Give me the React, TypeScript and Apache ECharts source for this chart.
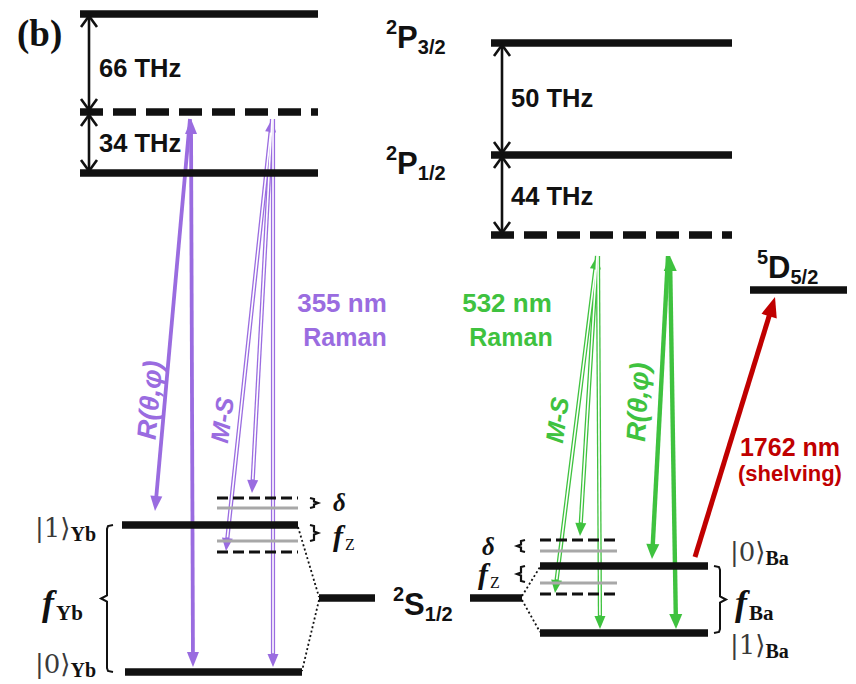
import React, { useEffect, useRef } from "react";
import * as echarts from "echarts";

// ---------------- data (diagram coordinates, y grows downward) ----------------
// energy levels: [xStart, xEnd, y]
const ybLevels = [[80, 318, 14], [80, 318, 173], [122, 298, 525], [125, 302, 672], [319, 375, 598]];
const ybVirtual = [[80, 318, 112]];
const ybSideDashed = [[217, 298, 498], [217, 298, 552]];
const ybSideGray = [[217, 298, 508], [217, 298, 541]];
const baLevels = [[491, 732, 43], [491, 732, 155], [540, 708, 566], [540, 708, 633], [470, 522, 598], [750, 847, 290]];
const baVirtual = [[491, 732, 235]];
const baSideDashed = [[540, 617, 540], [540, 617, 594]];
const baSideGray = [[540, 617, 551], [540, 617, 583]];
// splitting arrows: [x, yTop, yBottom]
const gapArrows = [[89, 16, 110], [89, 115, 171], [502, 45, 153], [502, 157, 233]];
// dotted Zeeman links: [x1, y1, x2, y2]
const dottedLinks = [[298, 527, 319, 597], [319, 600, 302, 671], [522, 596, 540, 567], [522, 600, 540, 632]];
// beams: [x1, y1, x2, y2, headAtStart, headAtEnd]
const yb355Beams = [[190, 119, 155, 511, 0, 1], [191, 119, 193, 667, 1, 1]];
const yb355MS = [[272, 119, 226, 551, 1, 1], [272, 119, 252, 493, 0, 1], [273, 119, 273, 667, 0, 1]];
const ba532Beams = [[668, 256, 652, 559, 0, 1], [670, 256, 676, 629, 1, 1]];
const ba532MS = [[597, 256, 555, 593, 1, 1], [597, 256, 580, 536, 0, 1], [598, 256, 600, 629, 0, 1]];
const shelvingBeam = [[695, 557, 775, 297, 0, 1]];
// braces: [xSpine, yTop, yBottom, tickDirection]
const bigBraces = [[107, 525, 672, -1], [720, 566, 633, 1]];
const smallBraces = [[310, 498, 508, 1], [310, 525, 541, 1], [525, 540, 552, -1], [525, 566, 582, -1]];
// text
const splitLabels = ["66 THz", "34 THz", "50 THz", "44 THz"];
const laserLabels = ["355 nm", "Raman", "532 nm", "Raman", "1762 nm", "(shelving)"];

// ---------------- styles ----------------
const PURPLE = "#9a6ce0";
const GREEN = "#3fc23f";
const RED = "#c00000";
const INK = "#111111";
const GRAY = "#a8a8a8";
const SANS = '"Liberation Sans", Arial, sans-serif';
const SERIF = '"Liberation Serif", "DejaVu Serif", serif';
const KETF = '"DejaVu Serif", "Liberation Serif", serif';

type V = number[];
function unit(a: V, b: V) {
  const dx = b[0] - a[0], dy = b[1] - a[1];
  const l = Math.hypot(dx, dy) || 1;
  return [dx / l, dy / l];
}
function filledHead(tip: V, u: V, L: number, w: number, color: string) {
  const n = [-u[1], u[0]];
  const bx = tip[0] - u[0] * L, by = tip[1] - u[1] * L;
  return {
    type: "polygon",
    shape: { points: [[tip[0], tip[1]], [bx + n[0] * w / 2, by + n[1] * w / 2], [bx - n[0] * w / 2, by - n[1] * w / 2]] },
    style: { fill: color },
  };
}

function levelSeries(id: string, data: number[][], style: any, z = 10) {
  return {
    type: "custom", id, coordinateSystem: "cartesian2d", data, clip: false, silent: true, z,
    renderItem: (_p: any, api: any) => {
      const a = api.coord([api.value(0), api.value(2)]);
      const b = api.coord([api.value(1), api.value(2)]);
      return { type: "line", shape: { x1: a[0], y1: a[1], x2: b[0], y2: b[1] }, style: { stroke: INK, lineCap: "butt", ...style } };
    },
  };
}

function beamSeries(id: string, data: number[][], o: any) {
  return {
    type: "custom", id, coordinateSystem: "cartesian2d", data, clip: false, silent: true, z: o.z ?? 5,
    renderItem: (_p: any, api: any) => {
      const p1 = api.coord([api.value(0), api.value(1)]);
      const p2 = api.coord([api.value(2), api.value(3)]);
      const hs = api.value(4), he = api.value(5);
      const u = unit(p1, p2);
      const k = o.inner ? 1.05 : 0.8;
      const s = hs ? [p1[0] + u[0] * o.headLen * k, p1[1] + u[1] * o.headLen * k] : p1;
      const e = he ? [p2[0] - u[0] * o.headLen * k, p2[1] - u[1] * o.headLen * k] : p2;
      const children: any[] = [
        { type: "line", shape: { x1: s[0], y1: s[1], x2: e[0], y2: e[1] }, style: { stroke: o.color, lineWidth: o.width, lineCap: "butt" } },
      ];
      if (!o.inner) {
        if (hs) children.push(filledHead(p1, [-u[0], -u[1]], o.headLen, o.headW, o.color));
        if (he) children.push(filledHead(p2, u, o.headLen, o.headW, o.color));
      }
      return { type: "group", children };
    },
  };
}

function gapArrowSeries() {
  return {
    type: "custom", id: "gaps", coordinateSystem: "cartesian2d", data: gapArrows, clip: false, silent: true, z: 12,
    renderItem: (_p: any, api: any) => {
      const a = api.coord([api.value(0), api.value(1)]);
      const b = api.coord([api.value(0), api.value(2)]);
      const L = 11, w = 8;
      const st = { stroke: INK, lineWidth: 2.6, fill: "none" };
      return {
        type: "group",
        children: [
          { type: "line", shape: { x1: a[0], y1: a[1] + 1, x2: b[0], y2: b[1] - 1 }, style: st },
          { type: "polyline", shape: { points: [[a[0] - w, a[1] + L], [a[0], a[1]], [a[0] + w, a[1] + L]] }, style: st },
          { type: "polyline", shape: { points: [[b[0] - w, b[1] - L], [b[0], b[1]], [b[0] + w, b[1] - L]] }, style: st },
        ],
      };
    },
  };
}

function dottedSeries() {
  return {
    type: "custom", id: "dots", coordinateSystem: "cartesian2d", data: dottedLinks, clip: false, silent: true, z: 8,
    renderItem: (_p: any, api: any) => {
      const a = api.coord([api.value(0), api.value(1)]);
      const b = api.coord([api.value(2), api.value(3)]);
      return { type: "line", shape: { x1: a[0], y1: a[1], x2: b[0], y2: b[1] }, style: { stroke: INK, lineWidth: 1.8, lineDash: [2, 2.5] } };
    },
  };
}

function braceSeries(id: string, data: number[][], big: boolean) {
  return {
    type: "custom", id, coordinateSystem: "cartesian2d", data, clip: false, silent: true, z: 12,
    renderItem: (_p: any, api: any) => {
      const x = api.coord([api.value(0), api.value(1)])[0];
      const y1 = api.coord([api.value(0), api.value(1)])[1];
      const y2 = api.coord([api.value(0), api.value(2)])[1];
      const d = api.value(3);
      const ym = (y1 + y2) / 2;
      let pts: number[][];
      if (big) {
        pts = [[x - d * 6, y1], [x - d * 1, y1 + 1], [x, y1 + 4], [x, ym - 3], [x + d * 6, ym], [x, ym + 3], [x, y2 - 4], [x - d * 1, y2 - 1], [x - d * 6, y2]];
      } else {
        const xs = x + d * 4;
        pts = [[x, y1], [xs, y1 + 1], [xs, ym - 1.5], [x + d * 8, ym], [xs, ym + 1.5], [xs, y2 - 1], [x, y2]];
      }
      return { type: "polyline", shape: { points: pts }, style: { stroke: INK, lineWidth: big ? 2 : 2.2, fill: "none" } };
    },
  };
}

// ---------------- text helpers ----------------
function T(x: number, y: number, text: string, font: string, fill: string, align = "left", rotation = 0) {
  return { type: "text", x, y, rotation, silent: true, z: 20, style: { text, font, fill, align, verticalAlign: "middle" } };
}
function termLabel(x: number, y: number, sup: string, main: string, sub: string) {
  return {
    type: "text", x, y, silent: true, z: 20,
    style: {
      text: `{sup|${sup}}{m|${main}}{sub|${sub}}`,
      align: "left", verticalAlign: "middle",
      rich: {
        sup: { fontSize: 20, fontWeight: "bold", fontFamily: SANS, fill: INK, verticalAlign: "top", lineHeight: 18 },
        m: { fontSize: 31, fontWeight: "bold", fontFamily: SANS, fill: INK, lineHeight: 40, verticalAlign: "middle" },
        sub: { fontSize: 20, fontWeight: "bold", fontFamily: SANS, fill: INK, verticalAlign: "bottom", lineHeight: 18 },
      },
    },
  };
}
function ketLabel(x: number, y: number, n: string, sub: string) {
  return {
    type: "text", x, y, silent: true, z: 20,
    style: {
      text: `{k|\u007C${n}\u27E9}{s|${sub}}`,
      align: "left", verticalAlign: "middle",
      rich: {
        k: { fontSize: 26, fontFamily: KETF, fill: "#3a3a3a", lineHeight: 32, verticalAlign: "middle" },
        s: { fontSize: 20, fontWeight: "bold", fontFamily: SERIF, fill: INK, lineHeight: 20, verticalAlign: "bottom" },
      },
    },
  };
}
function fLabel(x: number, y: number, sub: string, fs: number, ss: number, subBold: boolean) {
  return {
    type: "text", x, y, silent: true, z: 20,
    style: {
      text: `{f|f}{s|${sub}}`,
      align: "left", verticalAlign: "middle",
      rich: {
        f: { fontSize: fs, fontWeight: "bold", fontStyle: "italic", fontFamily: SERIF, fill: INK, lineHeight: fs + 4, verticalAlign: "middle" },
        s: { fontSize: ss, fontWeight: subBold ? "bold" : "normal", fontFamily: SERIF, fill: INK, lineHeight: ss, verticalAlign: "bottom", padding: [0, 0, 0, 2] },
      },
    },
  };
}

export default function App() {
  const ref = useRef<HTMLDivElement>(null);
  useEffect(() => {
    if (!ref.current) return;
    const chart = echarts.init(ref.current, null, { renderer: "svg" });
    const deg = Math.PI / 180;
    const option: any = {
      animation: false,
      backgroundColor: "#ffffff",
      grid: { left: 0, right: 0, top: 0, bottom: 0 },
      xAxis: { type: "value", min: 0, max: 856, show: false },
      yAxis: { type: "value", min: 0, max: 684, inverse: true, show: false },
      series: [
        beamSeries("yb355", yb355Beams, { color: PURPLE, width: 3.8, headLen: 15, headW: 12 }),
        beamSeries("yb355MSo", yb355MS, { color: PURPLE, width: 4.2, headLen: 13, headW: 11 }),
        beamSeries("yb355MSi", yb355MS, { color: "#ffffff", width: 1.6, headLen: 13, headW: 11, inner: true, z: 6 }),
        beamSeries("ba532", ba532Beams, { color: GREEN, width: 4.4, headLen: 15, headW: 13 }),
        beamSeries("ba532MSo", ba532MS, { color: GREEN, width: 4.2, headLen: 13, headW: 11 }),
        beamSeries("ba532MSi", ba532MS, { color: "#ffffff", width: 1.6, headLen: 13, headW: 11, inner: true, z: 6 }),
        beamSeries("shelve", shelvingBeam, { color: RED, width: 5, headLen: 20, headW: 16 }),
        levelSeries("ybL", ybLevels, { lineWidth: 7.5 }),
        levelSeries("ybV", ybVirtual, { lineWidth: 7.5, lineDash: [23, 10] }),
        levelSeries("ybSD", ybSideDashed, { lineWidth: 3, lineDash: [11, 5] }),
        levelSeries("ybSG", ybSideGray, { lineWidth: 3, stroke: GRAY }, 9),
        levelSeries("baL", baLevels, { lineWidth: 7.5 }),
        levelSeries("baV", baVirtual, { lineWidth: 7.5, lineDash: [23, 10] }),
        levelSeries("baSD", baSideDashed, { lineWidth: 3, lineDash: [11, 5] }),
        levelSeries("baSG", baSideGray, { lineWidth: 3, stroke: GRAY }, 9),
        gapArrowSeries(),
        dottedSeries(),
        braceSeries("bigBr", bigBraces, true),
        braceSeries("smBr", smallBraces, false),
      ],
      graphic: [
        T(17, 33, "(b)", `bold 37px ${SERIF}`, INK),
        T(99, 68, splitLabels[0], `bold 25.5px ${SANS}`, INK),
        T(99, 143, splitLabels[1], `bold 25.5px ${SANS}`, INK),
        T(511, 98, splitLabels[2], `bold 25.5px ${SANS}`, INK),
        T(511, 196, splitLabels[3], `bold 25.5px ${SANS}`, INK),
        termLabel(386, 37, "2", "P", "3/2"),
        termLabel(386, 163, "2", "P", "1/2"),
        termLabel(757, 267, "5", "D", "5/2"),
        termLabel(393, 604, "2", "S", "1/2"),
        T(342, 303, laserLabels[0], `bold 26px ${SANS}`, PURPLE, "center"),
        T(345, 337, laserLabels[1], `bold 25px ${SANS}`, PURPLE, "center"),
        T(507, 303, laserLabels[2], `bold 26px ${SANS}`, GREEN, "center"),
        T(511, 337, laserLabels[3], `bold 25px ${SANS}`, GREEN, "center"),
        T(790, 447, laserLabels[4], `bold 25px ${SANS}`, RED, "center"),
        T(790, 473, laserLabels[5], `bold 22px ${SANS}`, RED, "center"),
        T(150, 400, "R(θ,φ)", `italic bold 27px ${SANS}`, PURPLE, "center", 85 * deg),
        T(222, 420, "M-S", `italic bold 25px ${SANS}`, PURPLE, "center", 82 * deg),
        T(557, 420, "M-S", `italic bold 25px ${SANS}`, GREEN, "center", 82 * deg),
        T(638, 402, "R(θ,φ)", `italic bold 27px ${SANS}`, GREEN, "center", 87 * deg),
        ketLabel(35, 528, "1", "Yb"),
        ketLabel(35, 664, "0", "Yb"),
        ketLabel(730, 552, "0", "Ba"),
        ketLabel(730, 645, "1", "Ba"),
        fLabel(42, 603, "Yb", 36, 21, true),
        fLabel(735, 603, "Ba", 36, 21, true),
        T(333, 502, "δ", `italic bold 25px ${SERIF}`, INK),
        fLabel(333, 535, "Z", 30, 16, false),
        T(482, 546, "δ", `italic bold 25px ${SERIF}`, INK),
        fLabel(478, 573, "Z", 30, 16, false),
      ],
    };
    chart.setOption(option);
    return () => chart.dispose();
  }, []);
  return <div ref={ref} style={{ position: "fixed", left: 0, top: 0, width: 856, height: 684, background: "#fff" }} />;
}
